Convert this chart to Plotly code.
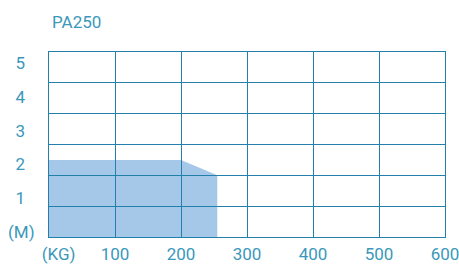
import plotly.graph_objects as go

# Data
title_text = "PA250"
load_kg = [0, 200, 255]          # load (KG)
height_m = [2.5, 2.5, 2.0]        # working height, grid units
x_ticks = [0, 100, 200, 300, 400, 500, 600]
x_tick_text = ["\u2007\u2007(KG)", "100", "200", "300", "400", "500", "600"]
y_ticks = [0, 1, 2, 3, 4, 5]
y_tick_text = ["(M)", "1\u2007", "2\u2007", "3\u2007", "4\u2007", "5\u2007"]

FONT = "Roboto, sans-serif"
TEXT = "#3a98ba"
GRID = "#2380aa"
FILL = "#a6c8e8"
FS = 17

fig = go.Figure()
# filled envelope (subplot 1, below)
fig.add_trace(go.Scatter(x=load_kg, y=height_m, mode="lines", fill="tozeroy",
                         fillcolor=FILL, line=dict(width=0, color=FILL),
                         hoverinfo="skip", showlegend=False,
                         xaxis="x", yaxis="y"))
# grid subplot (drawn above the fill)
fig.add_trace(go.Scatter(x=[None], y=[None], mode="lines", showlegend=False,
                         xaxis="x2", yaxis="y2"))
# label axis
fig.add_trace(go.Scatter(x=[None], y=[None], mode="lines", showlegend=False,
                         xaxis="x2", yaxis="y3"))

fig.update_layout(
    width=459, height=264,
    margin=dict(l=48.5, r=14, t=52, b=27, autoexpand=False),
    paper_bgcolor="white", plot_bgcolor="rgba(0,0,0,0)",
    font=dict(family=FONT, color=TEXT, size=FS),
    title=dict(text=title_text, x=52/459, xanchor="left", y=1-16/264, yanchor="top",
               font=dict(family=FONT, color=TEXT, size=FS)),
    xaxis=dict(range=[0, 600], visible=False, anchor="y", automargin=False),
    yaxis=dict(range=[0, 6], visible=False, anchor="x", automargin=False),
    xaxis2=dict(range=[0, 600], anchor="y2", tickvals=x_ticks, ticktext=x_tick_text,
                showgrid=True, gridcolor=GRID, gridwidth=1.3,
                showline=True, linecolor=GRID, linewidth=1.3, mirror=True,
                zeroline=False, ticks="outside", ticklen=1, tickcolor="rgba(0,0,0,0)",
                automargin=False, ticklabeloverflow="allow",
                tickfont=dict(size=FS, color=TEXT, family=FONT)),
    yaxis2=dict(range=[0, 6], anchor="x2", dtick=1, showticklabels=False,
                showgrid=True, gridcolor=GRID, gridwidth=1.3,
                showline=True, linecolor=GRID, linewidth=1.3, mirror=True,
                zeroline=False, automargin=False),
    yaxis3=dict(range=[-0.148, 5.325], overlaying="y2", anchor="x2", side="left",
                tickvals=y_ticks, ticktext=y_tick_text, showgrid=False, zeroline=False,
                showline=False, ticks="outside", ticklen=10, tickcolor="rgba(0,0,0,0)",
                automargin=False,
                tickfont=dict(size=FS, color=TEXT, family=FONT)),
)

# remove the page's default 8px body margin so the 459x264 figure fills the window
fig.write_html("out.html", config={"displayModeBar": False},
               post_script="document.body.style.margin='0';")
